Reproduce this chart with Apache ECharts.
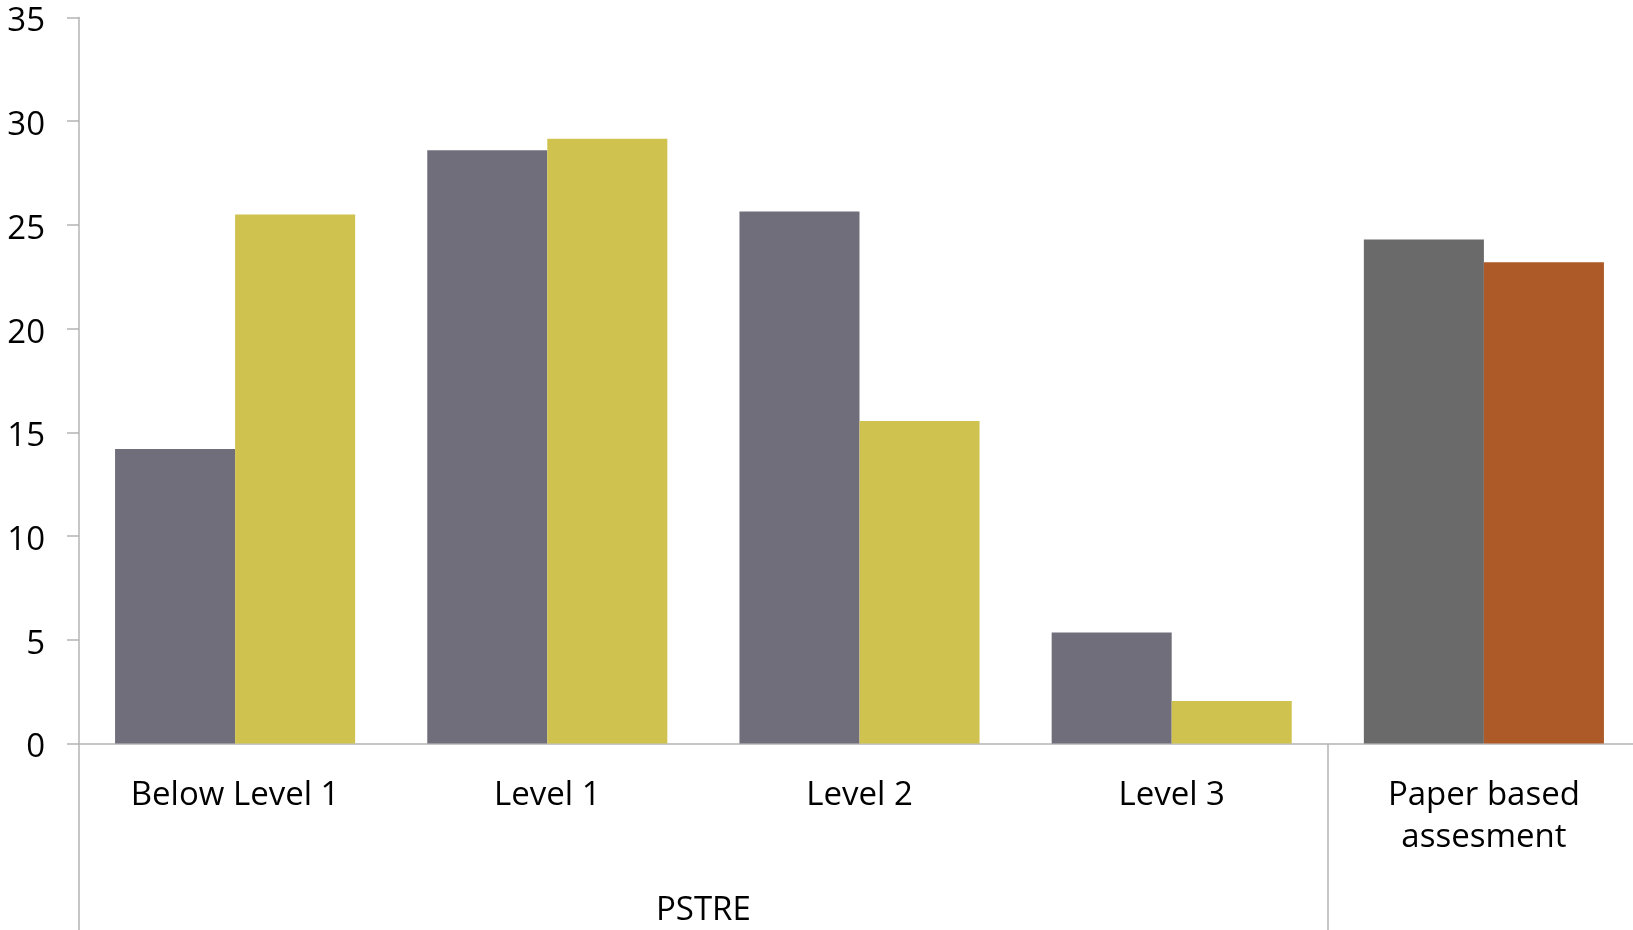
<!DOCTYPE html>
<html>
<head>
<meta charset="utf-8">
<script src="https://cdn.jsdelivr.net/npm/echarts@6/dist/echarts.min.js"></script>
<style>
html,body{margin:0;padding:0;background:#fff;}
#chart{width:1633px;height:930px;}
</style>
</head>
<body>
<div id="chart"></div>
<script>
const categories = ['Below Level 1', 'Level 1', 'Level 2', 'Level 3', 'Paper based\nassesment'];
const seriesA = [14.2, 28.6, 25.65, 5.35, 24.3];
const seriesB = [25.5, 29.15, 15.55, 2.05, 23.2];
const groupLabel = 'PSTRE';
const yTicks = { min: 0, max: 35, interval: 5 };

const colorA = '#716e7c', colorB = '#cfc24f';
const paperColorA = '#6a6a6a', paperColorB = '#ad5a28';
const axisColor = '#b4b4b4';
const font = '"Open Sans", sans-serif';

function build(vals, base, last) {
  return vals.map((v, i) => i === vals.length - 1 ? { value: v, itemStyle: { color: last } } : { value: v, itemStyle: { color: base } });
}

const chart = echarts.init(document.getElementById('chart'));
chart.setOption({
  animation: false,
  grid: { left: 79, top: 17.5, width: 1561, height: 726, outerBoundsMode: 'none', containLabel: false },
  xAxis: {
    type: 'category',
    data: categories,
    axisLine: { lineStyle: { color: axisColor, width: 1.5 } },
    axisTick: {
      show: true,
      length: 190,
      interval: (i) => i === 0 || i === 4,
      lineStyle: { color: axisColor, width: 1.5 }
    },
    axisLabel: { color: '#000', fontFamily: font, fontSize: 33, lineHeight: 42, margin: 31, interval: 0 }
  },
  yAxis: {
    type: 'value',
    min: yTicks.min, max: yTicks.max, interval: yTicks.interval,
    splitLine: { show: false },
    axisLine: { show: true, lineStyle: { color: axisColor, width: 1.5 } },
    axisTick: { show: true, length: 12, lineStyle: { color: axisColor, width: 1.5 } },
    axisLabel: {
      color: '#000', fontFamily: font, fontSize: 33, margin: 34,
      formatter: (v) => '{a|' + v + '}',
      rich: { a: { color: '#000', fontFamily: font, fontSize: 33, padding: [9, 0, 0, 0] } }
    }
  },
  series: [
    { type: 'bar', data: build(seriesA, colorA, paperColorA), barGap: '0%', barCategoryGap: '23.1%' },
    { type: 'bar', data: build(seriesB, colorB, paperColorB), barGap: '0%', barCategoryGap: '23.1%' }
  ]
});

const x1 = chart.convertToPixel({ xAxisIndex: 0 }, categories[1]);
const x2 = chart.convertToPixel({ xAxisIndex: 0 }, categories[2]);
chart.setOption({
  graphic: [{
    type: 'text',
    x: (x1 + x2) / 2,
    y: 911,
    style: { text: groupLabel, fill: '#000', font: '33px "Open Sans", sans-serif', align: 'center', verticalAlign: 'middle' }
  }]
});
</script>
</body>
</html>
